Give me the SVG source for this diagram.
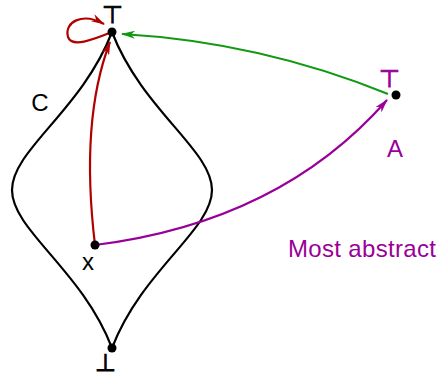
<svg xmlns="http://www.w3.org/2000/svg" width="441" height="375" viewBox="0 0 441 375">
<style>
.lbl{font-family:"Liberation Sans",Arial,sans-serif;font-size:24px}
.sym{stroke-width:0.9}
.blk{fill:#000}
.blk.sym{stroke:#000}
.pur{fill:#990099}
.pur.sym{stroke:#990099}
.dot{fill:#000}
.edge{fill:none;stroke-width:2.2}
</style>
<defs>
<marker id="ar" viewBox="0 0 14 8" refX="13" refY="4" markerWidth="14" markerHeight="8" markerUnits="userSpaceOnUse" orient="auto"><path d="M0,0 L14,4 L0,8 L4,4 Z" fill="#b00000"/></marker>
<marker id="ag" viewBox="0 0 14 8" refX="13" refY="4" markerWidth="14" markerHeight="8" markerUnits="userSpaceOnUse" orient="auto"><path d="M0,0 L14,4 L0,8 L4,4 Z" fill="#119911"/></marker>
<marker id="ap" viewBox="0 0 14 8" refX="13" refY="4" markerWidth="14" markerHeight="8" markerUnits="userSpaceOnUse" orient="auto"><path d="M0,0 L14,4 L0,8 L4,4 Z" fill="#990099"/></marker>
</defs>
<g id="C">
<path d="M112,32 C82,110 12,150 12,190 C12,230 82,270 112,348 C142,270 212,230 212,190 C212,150 142,110 112,32 Z" fill="none" stroke="#000" stroke-width="2.2"/>
<text class="lbl blk" x="40" y="111" text-anchor="middle">C</text>
</g>
<g id="connectors">
<path class="edge" stroke="#b00000" d="M112,32 C92,40 72,48 68,37 C64,22 82,12 104,24" marker-end="url(#ar)"/>
<path class="edge" stroke="#b00000" d="M95,245 Q80,120 110,42" marker-end="url(#ar)"/>
<path class="edge" stroke="#119911" d="M388,94 Q260,42 122,34" marker-end="url(#ag)"/>
<path class="edge" stroke="#990099" d="M95,245 Q280,222 387,100" marker-end="url(#ap)"/>
</g>
<g id="top">
<circle class="dot" cx="112" cy="32" r="4.5"/>
<text class="lbl blk sym" x="112.5" y="23" text-anchor="middle">⊤</text>
</g>
<g id="x">
<circle class="dot" cx="95" cy="245" r="4.5"/>
<text class="lbl blk" x="88" y="270" text-anchor="middle">x</text>
</g>
<g id="bottom">
<circle class="dot" cx="112" cy="348" r="4.5"/>
<text class="lbl blk sym" x="105" y="371" text-anchor="middle">⊥</text>
</g>
<g id="A">
<circle class="dot" cx="396" cy="95" r="4.5"/>
<text class="lbl pur sym" x="389.5" y="87" text-anchor="middle">⊤</text>
<text class="lbl pur" x="395" y="157" text-anchor="middle">A</text>
</g>
<text class="lbl pur" x="288" y="257" textLength="148">Most abstract</text>
</svg>
